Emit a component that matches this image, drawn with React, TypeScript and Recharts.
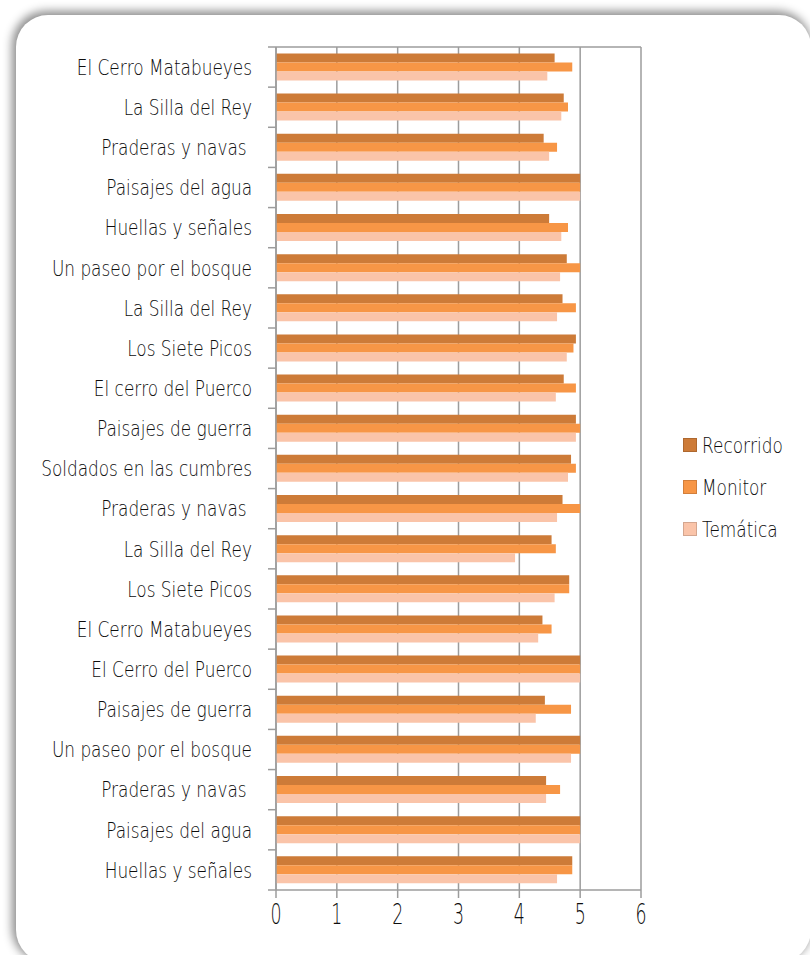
import React from 'react';
import { BarChart, Bar, XAxis, YAxis, CartesianGrid } from 'recharts';

const categories = [
  'El Cerro Matabueyes',
  'La Silla del Rey',
  'Praderas y navas ',
  'Paisajes del agua',
  'Huellas y señales',
  'Un paseo por el bosque',
  'La Silla del Rey',
  'Los Siete Picos',
  'El cerro del Puerco',
  'Paisajes de guerra',
  'Soldados en las cumbres',
  'Praderas y navas ',
  'La Silla del Rey',
  'Los Siete Picos',
  'El Cerro Matabueyes',
  'El Cerro del Puerco',
  'Paisajes de guerra',
  'Un paseo por el bosque',
  'Praderas y navas ',
  'Paisajes del agua',
  'Huellas y señales',
];
const recorrido = [4.58, 4.73, 4.4, 5, 4.49, 4.78, 4.71, 4.93, 4.73, 4.93, 4.85, 4.71, 4.53, 4.82, 4.38, 5, 4.42, 5, 4.44, 5, 4.87];
const monitor = [4.87, 4.8, 4.62, 5, 4.8, 5, 4.93, 4.89, 4.93, 5, 4.93, 5, 4.6, 4.82, 4.53, 5, 4.85, 5, 4.67, 5, 4.87];
const tematica = [4.46, 4.69, 4.49, 5, 4.69, 4.67, 4.62, 4.78, 4.6, 4.93, 4.8, 4.62, 3.93, 4.58, 4.31, 5, 4.27, 4.85, 4.44, 5, 4.62];
const xTicks = [0, 1, 2, 3, 4, 5, 6];

const series = [
  { key: 'recorrido', name: 'Recorrido', color: '#CD7B38' },
  { key: 'monitor', name: 'Monitor', color: '#F79646' },
  { key: 'tematica', name: 'Temática', color: '#FAC4A9' },
];

const data = categories.map((name, i) => ({
  name,
  recorrido: recorrido[i],
  monitor: monitor[i],
  tematica: tematica[i],
}));

const W = 810;
const H = 955;
const TOP = 47;
const BOTTOM_AXIS = 65;
const PLOT_H = H - TOP - BOTTOM_AXIS;
const BAND = PLOT_H / categories.length;
const AXIS = '#9c9c9c';
const TEXT = '#0d0d0d';
const FONT = "'DejaVu Sans', sans-serif";
const WEIGHT = 300;

const YTick = (props: any) => {
  const { x, y, payload, index } = props;
  const ax = x + 24;
  return (
    <g>
      <line x1={ax - 8} x2={ax} y1={y - BAND / 2} y2={y - BAND / 2} stroke={AXIS} strokeWidth={1.5} />
      {index === categories.length - 1 && (
        <line x1={ax - 8} x2={ax} y1={y + BAND / 2} y2={y + BAND / 2} stroke={AXIS} strokeWidth={1.5} />
      )}
      <text
        transform={`translate(${x},${y}) scale(0.787,1)`}
        textAnchor="end"
        dy="0.36em"
        fontSize={21.5}
        fontFamily={FONT}
        fontWeight={WEIGHT}
        fill={TEXT}
        style={{ whiteSpace: 'pre' }}
      >
        {payload.value}
      </text>
    </g>
  );
};

const XTick = (props: any) => {
  const { x, y, payload } = props;
  return (
    <text
      transform={`translate(${x},${y}) scale(0.6,1)`}
      textAnchor="middle"
      dy={24}
      fontSize={29}
      fontFamily={FONT}
      fontWeight={WEIGHT}
      fill={TEXT}
    >
      {payload.value}
    </text>
  );
};

export default function App() {
  return (
    <div style={{ position: 'absolute', left: 0, top: 0, width: W, height: H, overflow: 'hidden', background: '#fff' }}>
      <div
        style={{
          position: 'absolute',
          left: 16,
          top: 15,
          width: 795,
          height: 947,
          borderRadius: 32,
          background: '#fff',
          boxShadow: '-2px -2px 10px 2px rgba(0,0,0,0.45)',
        }}
      />
      <div style={{ position: 'absolute', left: 0, top: 0 }}>
        <BarChart
          width={W}
          height={H}
          data={data}
          layout="vertical"
          margin={{ top: TOP, right: W - 641, bottom: 0, left: 0 }}
          barCategoryGap="16%"
          barGap={0}
        >
          <CartesianGrid horizontalPoints={[TOP]} stroke={AXIS} strokeWidth={1.5} />
          <XAxis
            type="number"
            domain={[0, 6]}
            ticks={xTicks}
            height={BOTTOM_AXIS}
            axisLine={{ stroke: AXIS, strokeWidth: 1.5 }}
            tickLine={{ stroke: AXIS, strokeWidth: 1.5 }}
            tickSize={8}
            tickMargin={2}
            tick={<XTick />}
          />
          <YAxis
            type="category"
            dataKey="name"
            width={276}
            axisLine={{ stroke: AXIS, strokeWidth: 1.5 }}
            tickLine={false}
            tickSize={0}
            tickMargin={24}
            interval={0}
            tick={<YTick />}
          />
          {series.map((s) => (
            <Bar key={s.key} dataKey={s.key} name={s.name} fill={s.color} isAnimationActive={false} />
          ))}
        </BarChart>
      </div>
      <div style={{ position: 'absolute', left: 683, top: 424, fontFamily: FONT, fontWeight: WEIGHT, color: TEXT }}>
        {series.map((s) => (
          <div key={s.key} style={{ display: 'flex', alignItems: 'center', height: 42 }}>
            <div
              style={{
                width: 14,
                height: 14,
                background: s.color,
                border: '1px solid rgba(0,0,0,0.15)',
                boxSizing: 'border-box',
                marginRight: 5,
              }}
            />
            <span style={{ fontSize: 21.5, display: 'inline-block', transform: 'scale(0.787,1)', transformOrigin: 'left center', whiteSpace: 'nowrap' }}>
              {s.name}
            </span>
          </div>
        ))}
      </div>
    </div>
  );
}
